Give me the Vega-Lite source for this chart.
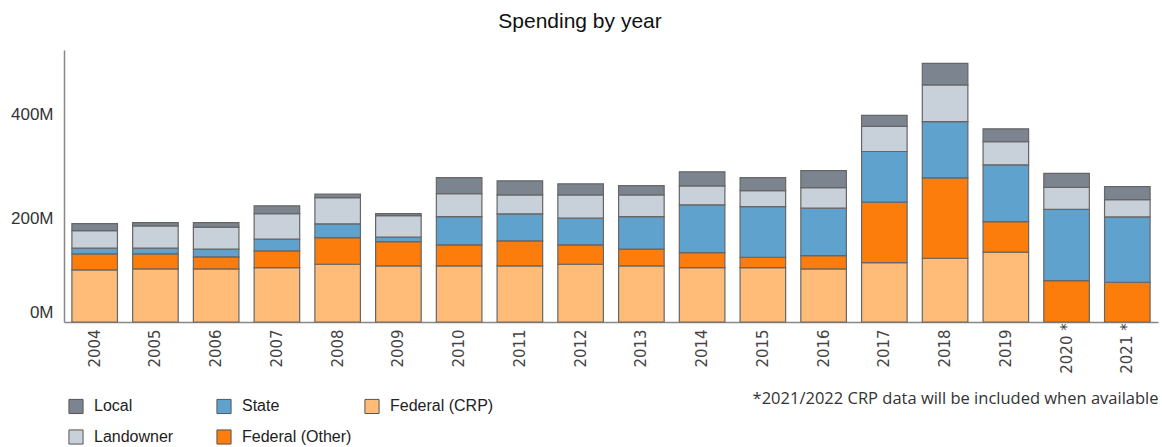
{
  "$schema": "https://vega.github.io/schema/vega-lite/v6.json",
  "width": 1094,
  "height": 272,
  "autosize": "none",
  "padding": {"left": 64, "top": 50, "right": 4, "bottom": 125},
  "background": "white",
  "title": {"text": "Spending by year", "fontSize": 21, "fontWeight": "normal", "font": "Liberation Sans", "color": "#111", "anchor": "middle", "dx": -31, "offset": 18},
  "config": {"view": {"stroke": null}},
  "data": {"values": [
    {"year": "2004", "source": "Federal (CRP)", "value": 100.5, "rank": 1},
    {"year": "2004", "source": "Federal (Other)", "value": 30.9, "rank": 2},
    {"year": "2004", "source": "State", "value": 11, "rank": 3},
    {"year": "2004", "source": "Landowner", "value": 34, "rank": 4},
    {"year": "2004", "source": "Local", "value": 13.5, "rank": 5},
    {"year": "2005", "source": "Federal (CRP)", "value": 102.4, "rank": 1},
    {"year": "2005", "source": "Federal (Other)", "value": 29, "rank": 2},
    {"year": "2005", "source": "State", "value": 11, "rank": 3},
    {"year": "2005", "source": "Landowner", "value": 43, "rank": 4},
    {"year": "2005", "source": "Local", "value": 6.4, "rank": 5},
    {"year": "2006", "source": "Federal (CRP)", "value": 102.4, "rank": 1},
    {"year": "2006", "source": "Federal (Other)", "value": 23.2, "rank": 2},
    {"year": "2006", "source": "State", "value": 14.9, "rank": 3},
    {"year": "2006", "source": "Landowner", "value": 42.5, "rank": 4},
    {"year": "2006", "source": "Local", "value": 8.9, "rank": 5},
    {"year": "2007", "source": "Federal (CRP)", "value": 104.9, "rank": 1},
    {"year": "2007", "source": "Federal (Other)", "value": 32.3, "rank": 2},
    {"year": "2007", "source": "State", "value": 22.6, "rank": 3},
    {"year": "2007", "source": "Landowner", "value": 49.5, "rank": 4},
    {"year": "2007", "source": "Local", "value": 14.9, "rank": 5},
    {"year": "2008", "source": "Federal (CRP)", "value": 111.5, "rank": 1},
    {"year": "2008", "source": "Federal (Other)", "value": 51.4, "rank": 2},
    {"year": "2008", "source": "State", "value": 26.5, "rank": 3},
    {"year": "2008", "source": "Landowner", "value": 50.8, "rank": 4},
    {"year": "2008", "source": "Local", "value": 6.6, "rank": 5},
    {"year": "2009", "source": "Federal (CRP)", "value": 108.2, "rank": 1},
    {"year": "2009", "source": "Federal (Other)", "value": 47, "rank": 2},
    {"year": "2009", "source": "State", "value": 8.5, "rank": 3},
    {"year": "2009", "source": "Landowner", "value": 41.7, "rank": 4},
    {"year": "2009", "source": "Local", "value": 3.9, "rank": 5},
    {"year": "2010", "source": "Federal (CRP)", "value": 108.2, "rank": 1},
    {"year": "2010", "source": "Federal (Other)", "value": 40.6, "rank": 2},
    {"year": "2010", "source": "State", "value": 54.7, "rank": 3},
    {"year": "2010", "source": "Landowner", "value": 44.4, "rank": 4},
    {"year": "2010", "source": "Local", "value": 30.9, "rank": 5},
    {"year": "2011", "source": "Federal (CRP)", "value": 108.2, "rank": 1},
    {"year": "2011", "source": "Federal (Other)", "value": 48.3, "rank": 2},
    {"year": "2011", "source": "State", "value": 52.2, "rank": 3},
    {"year": "2011", "source": "Landowner", "value": 36.7, "rank": 4},
    {"year": "2011", "source": "Local", "value": 27, "rank": 5},
    {"year": "2012", "source": "Federal (CRP)", "value": 111.5, "rank": 1},
    {"year": "2012", "source": "Federal (Other)", "value": 37.3, "rank": 2},
    {"year": "2012", "source": "State", "value": 51.6, "rank": 3},
    {"year": "2012", "source": "Landowner", "value": 45, "rank": 4},
    {"year": "2012", "source": "Local", "value": 21.3, "rank": 5},
    {"year": "2013", "source": "Federal (CRP)", "value": 108.2, "rank": 1},
    {"year": "2013", "source": "Federal (Other)", "value": 32.3, "rank": 2},
    {"year": "2013", "source": "State", "value": 63, "rank": 3},
    {"year": "2013", "source": "Landowner", "value": 41.9, "rank": 4},
    {"year": "2013", "source": "Local", "value": 18, "rank": 5},
    {"year": "2014", "source": "Federal (CRP)", "value": 104.9, "rank": 1},
    {"year": "2014", "source": "Federal (Other)", "value": 29, "rank": 2},
    {"year": "2014", "source": "State", "value": 92.2, "rank": 3},
    {"year": "2014", "source": "Landowner", "value": 36.7, "rank": 4},
    {"year": "2014", "source": "Local", "value": 27, "rank": 5},
    {"year": "2015", "source": "Federal (CRP)", "value": 104.9, "rank": 1},
    {"year": "2015", "source": "Federal (Other)", "value": 20.1, "rank": 2},
    {"year": "2015", "source": "State", "value": 97.8, "rank": 3},
    {"year": "2015", "source": "Landowner", "value": 30.9, "rank": 4},
    {"year": "2015", "source": "Local", "value": 25.1, "rank": 5},
    {"year": "2016", "source": "Federal (CRP)", "value": 102.4, "rank": 1},
    {"year": "2016", "source": "Federal (Other)", "value": 25.7, "rank": 2},
    {"year": "2016", "source": "State", "value": 91.6, "rank": 3},
    {"year": "2016", "source": "Landowner", "value": 39.8, "rank": 4},
    {"year": "2016", "source": "Local", "value": 32.8, "rank": 5},
    {"year": "2017", "source": "Federal (CRP)", "value": 114.6, "rank": 1},
    {"year": "2017", "source": "Federal (Other)", "value": 116.7, "rank": 2},
    {"year": "2017", "source": "State", "value": 97.8, "rank": 3},
    {"year": "2017", "source": "Landowner", "value": 48.3, "rank": 4},
    {"year": "2017", "source": "Local", "value": 21.3, "rank": 5},
    {"year": "2018", "source": "Federal (CRP)", "value": 123, "rank": 1},
    {"year": "2018", "source": "Federal (Other)", "value": 155.1, "rank": 2},
    {"year": "2018", "source": "State", "value": 108.8, "rank": 3},
    {"year": "2018", "source": "Landowner", "value": 70.9, "rank": 4},
    {"year": "2018", "source": "Local", "value": 41.2, "rank": 5},
    {"year": "2019", "source": "Federal (CRP)", "value": 134.7, "rank": 1},
    {"year": "2019", "source": "Federal (Other)", "value": 59.1, "rank": 2},
    {"year": "2019", "source": "State", "value": 109.5, "rank": 3},
    {"year": "2019", "source": "Landowner", "value": 45, "rank": 4},
    {"year": "2019", "source": "Local", "value": 24.5, "rank": 5},
    {"year": "2020", "source": "Federal (Other)", "value": 80, "rank": 2},
    {"year": "2020", "source": "State", "value": 137.2, "rank": 3},
    {"year": "2020", "source": "Landowner", "value": 42.5, "rank": 4},
    {"year": "2020", "source": "Local", "value": 27, "rank": 5},
    {"year": "2021", "source": "Federal (Other)", "value": 76.7, "rank": 2},
    {"year": "2021", "source": "State", "value": 126.2, "rank": 3},
    {"year": "2021", "source": "Landowner", "value": 33.4, "rank": 4},
    {"year": "2021", "source": "Local", "value": 25.1, "rank": 5}
  ]},
  "mark": {"type": "bar", "stroke": "#666666", "strokeWidth": 1.2},
  "encoding": {
    "x": {
      "field": "year", "type": "nominal",
      "scale": {"paddingInner": 0.25, "paddingOuter": 0.13},
      "axis": {
        "title": "*2021/2022 CRP data will be included when available",
        "titleAnchor": "end", "titleFont": "Open Sans", "titleFontSize": 16.5, "titleFontWeight": "normal", "titleColor": "#333",
        "titlePadding": 17,
        "labelAngle": 270, "labelAlign": "center", "labelBaseline": "middle", "labelPadding": 26,
        "labelFont": "DejaVu Sans", "labelFontSize": 15, "labelColor": "#444",
        "labelExpr": "datum.label == '2020' || datum.label == '2021' ? datum.label + ' *' : datum.label",
        "ticks": false, "domainColor": "#888", "domainWidth": 1.5
      }
    },
    "y": {
      "field": "value", "type": "quantitative", "stack": "zero",
      "scale": {"domain": [0, 525], "nice": false},
      "axis": {
        "title": null, "values": [0, 200, 400], "labelExpr": "datum.value + 'M'",
        "grid": false, "ticks": false, "domainColor": "#888", "domainWidth": 1.5,
        "labelFont": "Liberation Sans", "labelFontSize": 17, "labelColor": "#333", "labelPadding": 11,
        "labelOffset": {"condition": {"test": "datum.value == 0", "value": -10}, "value": 0}
      }
    },
    "color": {
      "field": "source", "type": "nominal",
      "scale": {
        "domain": ["Local", "Landowner", "State", "Federal (Other)", "Federal (CRP)"],
        "range": ["#7b848f", "#c8d0d9", "#5fa2ce", "#fc7d0b", "#ffbc79"]
      },
      "legend": {
        "title": null, "orient": "none", "legendX": 4, "legendY": 348,
        "columns": 3, "gridAlign": "all", "columnPadding": 10, "rowPadding": 11,
        "symbolType": "square", "symbolSize": 200, "symbolStrokeColor": "#555", "symbolStrokeWidth": 1, "symbolOpacity": 1,
        "labelFont": "Liberation Sans", "labelFontSize": 16, "labelColor": "#222", "labelOffset": 10
      }
    },
    "order": {"field": "rank", "type": "quantitative"}
  }
}
